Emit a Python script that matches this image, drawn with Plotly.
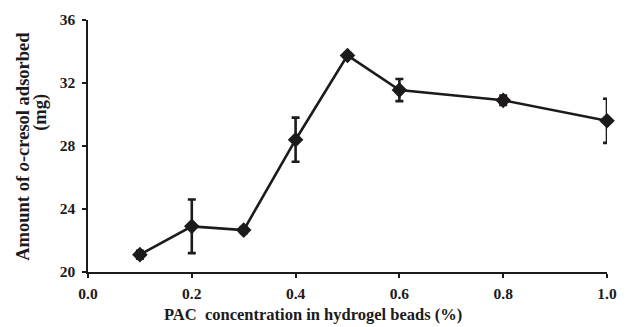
import plotly.graph_objects as go

pac = [0.1, 0.2, 0.3, 0.4, 0.5, 0.6, 0.8, 1.0]
amount = [21.1, 22.9, 22.66, 28.4, 33.75, 31.55, 30.9, 29.6]
err = [0.25, 1.7, 0.2, 1.4, 0.15, 0.7, 0.3, 1.4]
x_ticks = [0.0, 0.2, 0.4, 0.6, 0.8, 1.0]
x_labels = ["0.0", "0.2", "0.4", "0.6", "0.8", "1.0"]
y_ticks = [20, 24, 28, 32, 36]
y_labels = ["20", "24", "28", "32", "36"]
x_title = "PAC  concentration in hydrogel beads (%)"
y_title_1 = "Amount of <i>o</i>-cresol adsorbed"
y_title_2 = "(mg)"

ink = "#1c1a1b"
font = "Liberation Serif"

W, H = 628, 327
L, R, T, B = 88, 11, 17, 55
pw, ph = W - L - R, H - T - B


def px_x(x):
    return (x - L) / pw


def px_y(y):
    return (H - B - y) / ph


fig = go.Figure(go.Scatter(
    x=pac, y=amount, mode="lines+markers",
    line=dict(color=ink, width=2.6),
    marker=dict(symbol="diamond", size=12, color=ink),
    error_y=dict(type="data", array=err, visible=True, color=ink, thickness=2.6, width=4),
    cliponaxis=False,
))

title_font = dict(family=font, color=ink, weight="bold")
fig.add_annotation(text=x_title, xref="paper", yref="paper",
                   x=px_x(317), y=px_y(315), xanchor="center", yanchor="middle",
                   showarrow=False, font=dict(size=16.5, **title_font))
fig.add_annotation(text=y_title_1, xref="paper", yref="paper",
                   x=px_x(22), y=px_y(145), xanchor="center", yanchor="middle",
                   textangle=-90, showarrow=False, font=dict(size=18.5, **title_font))
fig.add_annotation(text=y_title_2, xref="paper", yref="paper",
                   x=px_x(40), y=px_y(110), xanchor="center", yanchor="middle",
                   textangle=-90, showarrow=False, font=dict(size=18.5, **title_font))

fig.update_layout(
    width=W, height=H,
    margin=dict(l=L, r=R, t=T, b=B),
    paper_bgcolor="white", plot_bgcolor="white",
    showlegend=False,
    font=dict(family=font, color=ink, size=15),
    xaxis=dict(
        range=[0, 1], tickvals=x_ticks, ticktext=x_labels,
        showline=True, linecolor=ink, linewidth=1.5,
        ticks="outside", ticklen=4, tickwidth=1.5, tickcolor=ink,
        showgrid=False, zeroline=False, ticklabelstandoff=3,
        tickfont=dict(family=font, size=15.5, color=ink, weight="bold"),
    ),
    yaxis=dict(
        range=[20, 36], tickvals=y_ticks, ticktext=y_labels,
        showline=True, linecolor=ink, linewidth=1.5,
        ticks="outside", ticklen=4, tickwidth=1.5, tickcolor=ink,
        showgrid=False, zeroline=False, ticklabelstandoff=4,
        tickfont=dict(family=font, size=15.5, color=ink, weight="bold"),
    ),
)

fig.write_html("out.html")
